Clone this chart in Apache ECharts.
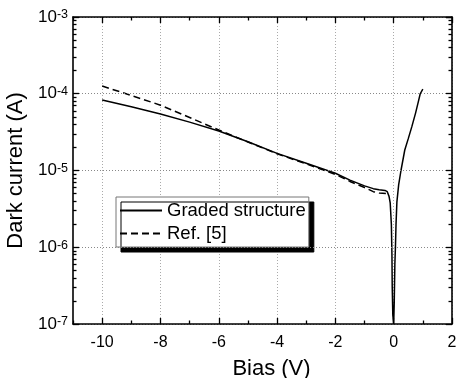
<!DOCTYPE html>
<html>
<head>
<meta charset="utf-8">
<script src="https://cdn.jsdelivr.net/npm/echarts@6/dist/echarts.min.js"></script>
<style>
  html, body { margin: 0; padding: 0; background: #fff; }
  #chart { width: 456px; height: 378px; }
</style>
</head>
<body>
<div id="chart"></div>
<script>
// Graded structure (solid line)
const gradedBias = [-10, -9, -8, -7, -6, -5, -4, -3, -2, -1.5, -1, -0.7, -0.5, -0.3, -0.22, -0.16, -0.12, -0.08, -0.06, -0.05, -0.03, 0,
  0.02, 0.04, 0.06, 0.08, 0.11, 0.17, 0.25, 0.38, 0.5, 0.62, 0.75, 0.85, 0.91, 1.0]
const gradedCurrent = [8.3e-5, 6.76e-5, 5.45e-5, 4.27e-5, 3.27e-5, 2.37e-5, 1.67e-5, 1.24e-5, 9.2e-6, 7.5e-6, 6.3e-6, 5.8e-6, 5.6e-6, 5.5e-6, 5.3e-6, 4.6e-6, 3.8e-6, 2e-6, 8e-7, 3e-7, 1.3e-7, 1e-7,
  2e-7, 6e-7, 1e-6, 2e-6, 3.9e-6, 6.5e-6, 1e-5, 1.85e-5, 2.6e-5, 3.7e-5, 5.6e-5, 8e-5, 1e-4, 1.15e-4]

// Ref. [5] (dashed line)
const refBias = [-10, -9, -8, -7, -6, -5, -4, -3, -2, -1.5, -1, -0.7, -0.5, -0.25]
const refCurrent = [1.26e-4, 9.5e-5, 7.1e-5, 4.9e-5, 3.37e-5, 2.35e-5, 1.65e-5, 1.22e-5, 8.9e-6, 7.2e-6, 6.0e-6, 5.3e-6, 5.1e-6, 5.0e-6]

// axis ticks
const biasMajor = [-10, -8, -6, -4, -2, 0, 2]
const biasMinor = [-11, -9, -7, -5, -3, -1, 1]
const biasSteps = [-11, -10, -9, -8, -7, -6, -5, -4, -3, -2, -1, 0, 1, 2]
const biasMin = -11
const biasMax = 2
const currentMin = 1e-7
const currentMax = 1e-3

const FONT = 'Liberation Sans, Arial, sans-serif'

// minor log ticks, placed on a linear axis in log10 space
const logMin = Math.log10(currentMin)
const logMax = Math.log10(currentMax)
const logMinor = []
for (let e = logMin; e < logMax; e++) {
  for (let k = 2; k <= 9; k++) logMinor.push(e + Math.log10(k))
}

const chart = echarts.init(document.getElementById('chart'))

const frameLine = () => ({ show: true, onZero: false, lineStyle: { color: '#000', width: 1.6 } })
const noLine = () => ({ show: false, onZero: false })
const tick = (len, values) => ({
  show: true, inside: true, length: len, customValues: values,
  lineStyle: { color: '#000', width: 1.3 }
})

const option = {
  animation: false,
  grid: { left: 73, right: 4, top: 17, bottom: 54, outerBoundsMode: 'none' },
  legend: {
    data: ['Graded structure', 'Ref. [5]'],
    orient: 'vertical',
    left: 116,
    top: 197,
    backgroundColor: '#fff',
    borderColor: '#777',
    borderWidth: 1,
    borderRadius: 0,
    padding: [4, 3, 4, 3],
    itemWidth: 42,
    itemHeight: 14,
    itemGap: 4,
    shadowColor: '#000',
    shadowBlur: 0,
    shadowOffsetX: 5,
    shadowOffsetY: 5,
    selectedMode: false,
    itemStyle: { opacity: 0 },
    textStyle: { fontFamily: FONT, fontSize: 18.5, color: '#000' }
  },
  xAxis: [
    {
      type: 'value', position: 'bottom', min: biasMin, max: biasMax, z: 5,
      name: 'Bias (V)', nameLocation: 'middle', nameGap: 34,
      nameTextStyle: { fontFamily: FONT, fontSize: 22, color: '#000', padding: [0, 0, 0, 18] },
      axisLine: frameLine(),
      axisTick: tick(6, biasMajor),
      axisLabel: { customValues: biasMajor, margin: 11, fontFamily: FONT, fontSize: 16, color: '#000' },
      splitLine: { show: false }
    },
    {
      type: 'value', position: 'bottom', min: biasMin, max: biasMax, z: 5,
      axisLine: noLine(),
      axisTick: tick(3.5, biasMinor),
      axisLabel: { show: false },
      splitLine: { show: false }
    },
    {
      type: 'value', position: 'top', min: biasMin, max: biasMax, z: 5,
      axisLine: frameLine(),
      axisTick: tick(6, biasMajor),
      axisLabel: { show: false },
      splitLine: { show: false }
    },
    {
      type: 'value', position: 'top', min: biasMin, max: biasMax, z: 5,
      axisLine: noLine(),
      axisTick: tick(3.5, biasMinor),
      axisLabel: { show: false },
      splitLine: { show: false }
    },
    {
      // vertical dotted grid lines at the even volts
      type: 'category', position: 'bottom', data: biasSteps, boundaryGap: false,
      axisLine: noLine(),
      axisTick: { show: false },
      axisLabel: { show: false },
      splitLine: {
        show: true,
        interval: (idx) => idx % 2 === 1,
        lineStyle: { color: '#aaa', type: [1, 2], width: 1 }
      }
    }
  ],
  yAxis: [
    {
      type: 'log', logBase: 10, position: 'left', min: currentMin, max: currentMax, z: 5,
      name: 'Dark current (A)', nameLocation: 'middle', nameGap: 33,
      nameTextStyle: { fontFamily: FONT, fontSize: 22, color: '#000' },
      axisLine: frameLine(),
      axisTick: { show: true, inside: true, length: 6, lineStyle: { color: '#000', width: 1.3 } },
      axisLabel: {
        margin: 5,
        formatter: (v) => '{b|10}{s|' + Math.round(Math.log10(v)) + '}',
        rich: {
          b: { fontFamily: FONT, fontSize: 17, color: '#000' },
          s: { fontFamily: FONT, fontSize: 12.5, color: '#000', verticalAlign: 'top' }
        }
      },
      splitLine: { show: true, lineStyle: { color: '#888', type: [1, 2], width: 1 } }
    },
    {
      type: 'value', position: 'left', min: logMin, max: logMax, z: 5,
      axisLine: noLine(),
      axisTick: tick(3.5, logMinor),
      axisLabel: { show: false },
      splitLine: { show: false }
    },
    {
      type: 'log', logBase: 10, position: 'right', min: currentMin, max: currentMax, z: 5,
      axisLine: frameLine(),
      axisTick: { show: true, inside: true, length: 6, lineStyle: { color: '#000', width: 1.3 } },
      axisLabel: { show: false },
      splitLine: { show: false }
    },
    {
      type: 'value', position: 'right', min: logMin, max: logMax, z: 5,
      axisLine: noLine(),
      axisTick: tick(3.5, logMinor),
      axisLabel: { show: false },
      splitLine: { show: false }
    }
  ],
  series: [
    {
      name: 'Ref. [5]',
      type: 'line',
      symbol: 'none',
      z: 3,
      data: refBias.map((x, i) => [x, refCurrent[i]]),
      itemStyle: { color: '#000' },
      lineStyle: { color: '#000', width: 1.5, type: [7, 4] }
    },
    {
      name: 'Graded structure',
      type: 'line',
      symbol: 'none',
      z: 4,
      data: gradedBias.map((x, i) => [x, gradedCurrent[i]]),
      itemStyle: { color: '#000' },
      lineStyle: { color: '#000', width: 1.5 }
    }
  ]
}

chart.setOption(option)
</script>
</body>
</html>
